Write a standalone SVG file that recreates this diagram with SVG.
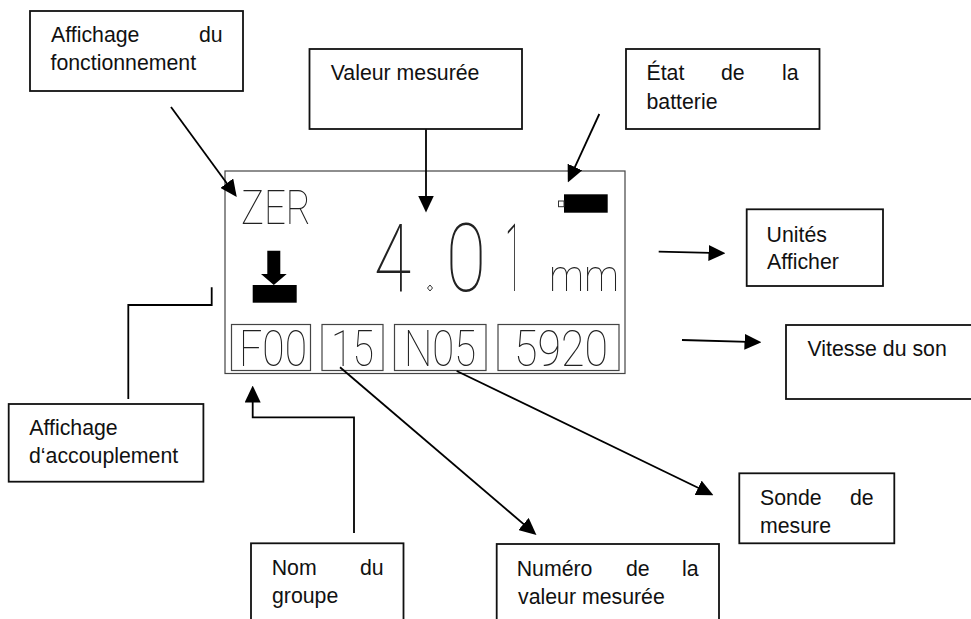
<svg xmlns="http://www.w3.org/2000/svg" width="971" height="619" viewBox="0 0 971 619">
<style>
.box{fill:#fff;stroke:#111;stroke-width:1.8}
.t{font-family:"Liberation Sans",Arial,sans-serif;font-size:21.3px;fill:#111}
.c{fill:none;stroke:#000;stroke-width:1.8}
.lcd{fill:none;stroke:#444;stroke-width:1.2}
.d{font-family:Roboto,"Liberation Sans",sans-serif;font-weight:100;fill:#222}
</style>
<defs>
<marker id="ah" markerUnits="userSpaceOnUse" markerWidth="17" markerHeight="16" refX="12.500" refY="8" orient="auto"><path d="M0 0L17 8L0 16z" fill="#000"/></marker>
<filter id="gray" x="0" y="0" width="1" height="1" color-interpolation-filters="sRGB"><feOffset dx="0" dy="0"/></filter>
</defs>
<rect width="971" height="619" fill="#fff"/>
<g id="display">
<rect class="lcd" x="225" y="171" width="400" height="202.500"/>
<rect class="lcd" x="231.500" y="324.500" width="79" height="46"/>
<rect class="lcd" x="322" y="324.500" width="61" height="46"/>
<rect class="lcd" x="394.500" y="324.500" width="91.500" height="46"/>
<rect class="lcd" x="498" y="324.500" width="121" height="46"/>
<g filter="url(#gray)">
<text class="d" x="241" y="224" font-size="49" textLength="70" lengthAdjust="spacingAndGlyphs">ZER</text>
<text class="d" x="374" y="291" font-size="95" textLength="37" lengthAdjust="spacingAndGlyphs">4</text>
<text class="d" x="446" y="291" font-size="95" textLength="40" lengthAdjust="spacingAndGlyphs">0</text>
<text class="d" x="505" y="291" font-size="95" textLength="17" lengthAdjust="spacingAndGlyphs">1</text>
<text class="d" x="549" y="291" font-size="45" textLength="70" lengthAdjust="spacingAndGlyphs">mm</text>
<text class="d" x="239" y="366" font-size="50" textLength="68" lengthAdjust="spacingAndGlyphs">F00</text>
<text class="d" x="331" y="366" font-size="50" textLength="43" lengthAdjust="spacingAndGlyphs">15</text>
<text class="d" x="404" y="366" font-size="50" textLength="72" lengthAdjust="spacingAndGlyphs">N05</text>
<text class="d" x="514" y="366" font-size="50" textLength="94" lengthAdjust="spacingAndGlyphs">5920</text>
</g>
<path d="M430 285l2.500 3-2.500 3-2.500-3z" fill="none" stroke="#333" stroke-width="1"/>
<path d="M267.300 250.700H280.300V274H286.700L273.800 285L261 274H267.300z" fill="#000"/>
<rect x="252.700" y="285" width="44" height="17.700" fill="#000"/>
<rect x="564" y="194.300" width="43.700" height="18.400" fill="#000"/>
<rect x="558.500" y="201" width="5.500" height="5.700" fill="#fff" stroke="#333"/>
</g>
<g id="connectors">
<path class="c" marker-end="url(#ah)" d="M171 107L234.100 193.300"/>
<path class="c" marker-end="url(#ah)" d="M426 129V208"/>
<path class="c" marker-end="url(#ah)" d="M599.300 114L569.700 178.400"/>
<path class="c" marker-end="url(#ah)" d="M658.700 251.700L721 253.200"/>
<path class="c" marker-end="url(#ah)" d="M682 340L757 342.200"/>
<path class="c" d="M128.300 399V305H211.700V287.300"/>
<path class="c" marker-end="url(#ah)" d="M354 533V417.300H252.700V390"/>
<path class="c" marker-end="url(#ah)" d="M340 367.300L533 532.100"/>
<path class="c" marker-end="url(#ah)" d="M456.700 371L709.400 493.300"/>
</g>
<g id="n-fonctionnement"><rect class="box" x="30" y="11" width="213" height="80"/><text class="t" x="51" y="42">Affichage</text><text class="t" x="199" y="42">du</text><text class="t" x="50.500" y="70">fonctionnement</text></g>
<g id="n-valeur"><rect class="box" x="309.500" y="49" width="212.500" height="80"/><text class="t" x="330.700" y="80">Valeur mesurée</text></g>
<g id="n-batterie"><rect class="box" x="626" y="49" width="193.500" height="80"/><text class="t" x="646.500" y="80">État</text><text class="t" x="721" y="80">de</text><text class="t" x="782" y="80">la</text><text class="t" x="646.500" y="108.500">batterie</text></g>
<g id="n-unites"><rect class="box" x="746.700" y="209.300" width="136.300" height="76.700"/><text class="t" x="766.600" y="241.500">Unités</text><text class="t" x="767" y="269">Afficher</text></g>
<g id="n-vitesse"><rect class="box" x="786" y="325" width="190" height="74"/><text class="t" x="807.500" y="355.500">Vitesse du son</text></g>
<g id="n-accouplement"><rect class="box" x="8.700" y="404" width="194.700" height="77.700"/><text class="t" x="29.300" y="435">Affichage</text><text class="t" x="29" y="462.700">d‘accouplement</text></g>
<g id="n-groupe"><rect class="box" x="251" y="543.300" width="152.500" height="90"/><text class="t" x="271.700" y="575">Nom</text><text class="t" x="360" y="575">du</text><text class="t" x="272" y="603">groupe</text></g>
<g id="n-numero"><rect class="box" x="496.700" y="544" width="222.300" height="90"/><text class="t" x="516.700" y="576">Numéro</text><text class="t" x="626" y="576">de</text><text class="t" x="682" y="576">la</text><text class="t" x="518" y="604">valeur mesurée</text></g>
<g id="n-sonde"><rect class="box" x="739.300" y="473.300" width="155" height="70"/><text class="t" x="760" y="505">Sonde</text><text class="t" x="850" y="505">de</text><text class="t" x="760" y="533">mesure</text></g>
</svg>
